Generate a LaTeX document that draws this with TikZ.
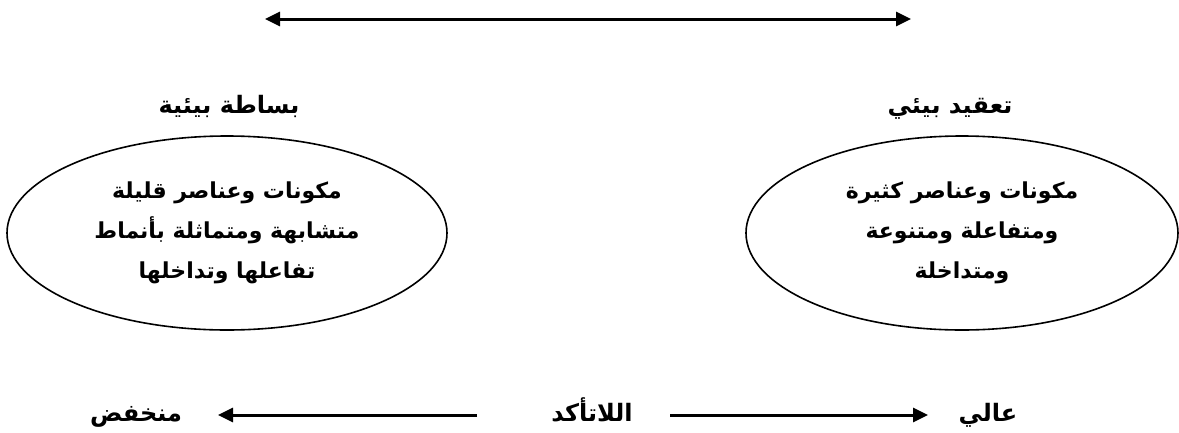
\documentclass[tikz,border=0pt]{standalone}
\usepackage{fontspec}
\usepackage{tikz}
\usetikzlibrary{shapes.geometric,arrows.meta,positioning}
\TeXXeTstate=1
\newfontfamily\arabicfont[Script=Arabic]{DejaVu Sans}

\begin{document}
\begin{tikzpicture}[
  x=1pt, y=-1pt,
  title/.style={font=\arabicfont\bfseries\fontsize{24}{28}\selectfont, inner sep=0pt, anchor=base},
  blob/.style={ellipse, draw, line width=1.6pt, text centered, align=center,
    font=\arabicfont\bfseries\fontsize{22}{40}\selectfont},
  tag/.style={font=\arabicfont\bfseries\fontsize{24}{28}\selectfont, inner sep=0pt, anchor=base},
  arrow/.style={-{Triangle[length=15pt,width=14pt]}, line width=3pt},
  dblarrow/.style={{Triangle[length=15pt,width=14pt]}-{Triangle[length=15pt,width=14pt]}, line width=3pt}
]
\useasboundingbox (0,0) rectangle (1179,432);

% top scale
\coordinate (topl) at (265,19);
\coordinate (topr) at (911,19);
\draw[dblarrow] (topl) -- (topr);

% headings
\node[title] (simple) at (229,113) {\beginR بساطة بيئية\endR};
\node[title] (complex) at (950,113) {\beginR تعقيد بيئي\endR};

% the two environments
\node[blob, minimum width=440pt, minimum height=194pt] (few) at (227,233)
  {\beginR مكونات وعناصر قليلة\endR\\ \beginR متشابهة ومتماثلة بأنماط\endR\\ \beginR تفاعلها وتداخلها\endR};
\node[blob, minimum width=432pt, minimum height=194pt] (many) at (962,233)
  {\beginR مكونات وعناصر كثيرة\endR\\ \beginR ومتفاعلة ومتنوعة\endR\\ \beginR ومتداخلة\endR};

% uncertainty scale
\node[tag] (low) at (136,421) {\beginR منخفض\endR};
\node[tag] (unc) at (592,421) {\beginR اللاتأكد\endR};
\node[tag] (high) at (988,421) {\beginR عالي\endR};
\coordinate (ua) at (477,415);
\coordinate (ub) at (218,415);
\coordinate (uc) at (670,415);
\coordinate (ud) at (928,415);
\draw[arrow] (ua) -- (ub);
\draw[arrow] (uc) -- (ud);
\end{tikzpicture}
\end{document}
